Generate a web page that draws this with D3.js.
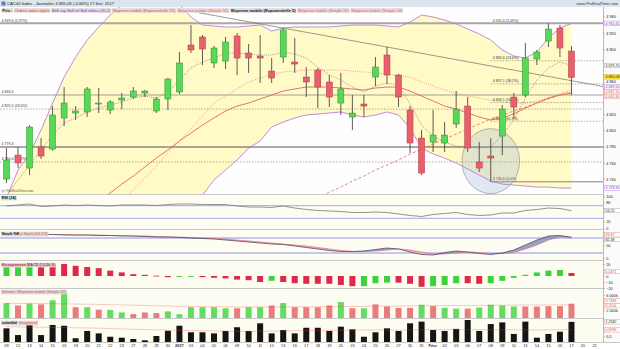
<!DOCTYPE html>
<html lang="fr">
<head>
<meta charset="UTF-8"/>
<title>CAC40 Index - Journalier</title>
<script src="https://cdnjs.cloudflare.com/ajax/libs/d3/7.8.5/d3.min.js"></script>
<style>
    body { margin: 0; background: #fff; }
    text { font-family: "Liberation Sans", Arial, sans-serif; }
    .axis path, .axis line { stroke: #888; stroke-width: 0.5px; }
    .axis path.domain { display: none; }
    .axis text { font-size: 3.9px; fill: #222; }
</style>
</head>
<body>
<div id="chart"></div>
<script>
// ---- data ----
const dates = ["09","12","13","14","15","16","19","20","21","22","23","27","28","29","30","2017","03","04","05","06",
    "09","10","11","12","13","16","17","18","19","20","23","24","25","26","27","30","31","Févr.","02","03",
    "06","07","08","09","10","13","14","15","16","17","20","21"];

const open = [4740.0,4769.5,4753.5,4779.4,4776.9,4815.1,4821.2,4822.5,4832.3,4824.9,4837.2,4840.9,4845.8,4823.7,4838.5,4847.1,4904.9,4914.8,4882.8,4885.2,
    4916.0,4895.1,4891.4,4872.9,4890.1,4884.0,4865.5,4874.1,4859.4,4833.5,4816.3,4832.3,4865.5,4892.6,4868.0,4824.9,4790.4,4785.5,4784.3,4807.7,
    4829.8,4760.9,4768.3,4792.9,4840.9,4843.4,4887.7,4909.8,4925.8,4897.5];
const high = [4778.1,4779.4,4806.4,4790.4,4829.8,4853.2,4829.8,4853.2,4852.0,4837.2,4845.8,4853.2,4849.5,4840.9,4864.3,4896.3,4929.5,4917.2,4903.7,4914.8,
    4919.7,4906.1,4917.2,4888.9,4925.8,4913.5,4877.8,4876.6,4868.0,4870.5,4843.4,4843.4,4890.1,4902.5,4869.2,4829.8,4800.3,4824.9,4810.1,4848.3,
    4841.0,4785.5,4790.4,4831.1,4845.8,4907.4,4898.8,4931.6,4929.5,4903.7];
const low = [4735.1,4753.5,4744.9,4764.6,4775.0,4805.2,4812.6,4816.3,4821.2,4820.0,4826.1,4838.5,4840.9,4821.2,4824.9,4844.6,4895.1,4880.3,4876.6,4875.4,
    4868.0,4870.5,4858.2,4858.2,4882.8,4870.5,4841.0,4827.4,4828.6,4818.8,4800.3,4816.3,4854.5,4856.9,4828.6,4772.0,4744.9,4773.2,4773.2,4802.8,
    4773.2,4748.6,4736.6,4769.5,4815.1,4840.9,4880.3,4902.5,4890.1,4843.4];
const close = [4763.4,4759.7,4804.0,4768.3,4818.8,4833.5,4823.7,4850.8,4833.5,4834.8,4839.7,4848.3,4848.3,4838.5,4863.1,4882.8,4898.8,4900.0,4901.2,4908.6,
    4888.9,4888.9,4888.9,4864.3,4923.4,4881.5,4859.4,4853.2,4840.9,4850.8,4821.2,4829.8,4877.8,4868.0,4840.9,4784.3,4747.4,4794.1,4794.1,4826.1,
    4778.1,4753.5,4765.8,4826.1,4828.6,4888.9,4896.3,4924.6,4901.2,4865.08];

const bollUp = [4716.6,4751.1,4770.8,4800.3,4833.5,4865.5,4890.1,4911.1,4927.1,4941.8,4954.1,4960.3,4966.5,4966.5,4960.3,4954.1,4939.4,4929.5,4928.3,4927.1,
    4927.1,4928.3,4929.5,4922.1,4925.8,4927.1,4927.1,4927.1,4927.1,4928.3,4929.5,4929.5,4929.5,4928.3,4927.1,4933.2,4941.8,4939.4,4935.7,4930.8,
    4924.6,4918.5,4911.1,4898.8,4891.4,4888.9,4896.3,4913.5,4925.8,4931.65];
const bollLow = [4642,4648,4651,4657,4660,4666,4671,4674,4679,4684,4688,4694,4697,4702,4706,4709,4714,4720.3,4738.8,4751.1,
    4763.4,4778.1,4786.8,4804.0,4810.1,4815.1,4818.8,4820.0,4821.2,4822.5,4818.8,4816.3,4818.8,4822.5,4818.8,4802.8,4778.1,4770.8,4765.8,4759.7,
    4752.3,4744.9,4737.5,4733.8,4732.6,4731.4,4730.1,4730.1,4728.9,4728.9];
const bollMid = [4559.1,4573.8,4588.6,4603.4,4619.4,4634.1,4650.1,4664.9,4680.9,4695.7,4711.7,4726.4,4741.2,4756.0,4772.0,4786.8,4801.5,4817.5,4833.5,4842.1,
    4850.8,4859.4,4864.3,4869.2,4871.7,4872.9,4874.1,4874.1,4874.1,4874.1,4872.9,4871.7,4870.5,4869.2,4866.8,4865.5,4859.4,4854.5,4849.5,4845.8,
    4842.1,4839.7,4837.2,4834.8,4833.5,4833.5,4836.0,4839.7,4844.6,4849.5];
const mmExp5 = [4720.3,4738.8,4757.2,4775.7,4794.1,4808.9,4815.1,4822.5,4827.4,4831.1,4834.8,4839.7,4842.1,4839.7,4847.1,4861.8,4876.6,4884.0,4888.9,4895.1,
    4895.1,4893.8,4892.6,4892.6,4896.3,4893.8,4888.9,4877.8,4868.0,4861.8,4853.2,4847.1,4854.5,4858.1,4855.7,4832.3,4806.4,4792.9,4785.5,4780.6,
    4779.4,4778.1,4779.4,4794.1,4812.6,4839.7,4861.8,4876.6,4884.0,4879.7];
const mmExp20 = [4632.9,4642.8,4652.6,4663.7,4673.5,4683.4,4694.4,4704.3,4714.1,4722.8,4733.8,4743.7,4754.8,4765.8,4775.7,4786.8,4796.6,4806.4,4815.1,4823.7,
    4829.8,4833.5,4838.5,4843.4,4848.3,4850.8,4853.2,4853.2,4853.2,4852.0,4850.8,4849.5,4852.0,4853.2,4853.2,4848.3,4842.1,4836.0,4829.8,4826.1,
    4821.2,4816.3,4812.6,4815.1,4820.0,4827.4,4833.5,4839.7,4843.4,4845.8];
const mmSimple50 = [null,null,null,null,null,null,null,null,null,null,null,null,null,null,null,null,null,null,null,null,
    null,null,null,null,null,4705.5,4711.7,4716.6,4724.0,4730.1,4737.5,4743.7,4751.1,4757.2,4763.4,4770.8,4776.9,4783.1,4789.2,4795.4,
    4801.5,4807.7,4813.8,4818.8,4823.7,4828.6,4833.5,4838.5,4843.4,4847.1];

// trend line and annotation circle (index, price)
const trendIdx = [15.4, 52.1];
const trendPrice = [4948, 4853];
const circleIdx = 42, circlePrice = 4762, circleIdxR = 2.5, circlePriceR = 40;

// horizontal levels drawn across the whole panel
const levelPrices = [4931.6, 4843.4, 4826.1, 4779.4, 4761.0];
const levelTexts = ["4 929,6 (1,97%)", "4 843,4", "4 825,5 (23,6%)", "4 779,4", "4 760,4 (38,2%)"];
// retracement drawn from the low of 8 févr.
const fibStart = 42;
const fibPrices = [4931.6, 4885.6, 4857.1, 4834.1, 4811.1, 4736.6];
const fibTexts = ["4 931,6 (2,05%)", "4 885,6 (23,6%)", "4 857,1 (38,2%)", "4 834,1 (50,0%)", "4 811,1 (61,8%)", "4 736,6 (0,0%)"];
const priceTicks = [4740, 4760, 4780, 4800, 4820, 4860, 4900, 4920, 4940];

const rsi = [68.8,71.9,75,67.2,68.8,71.9,70.3,71.9,70.3,68.8,71.9,71.9,71.9,70.3,73.4,75,75,73.4,73.4,73.4,
    68.8,65.6,65.6,64.1,68.8,62.5,57.8,54.7,53.1,51.6,48.4,48.4,50,48.4,43.8,39.1,35.9,42.2,45.3,48.4,
    42.2,39.1,40.6,46.9,46.9,54.7,57.8,62.5,60.9,54.25];
const stochK = [96,96,96,94,94,92,92,92,90,90,88,88,86,84,84,82,80,78,76,72,
    68,64,60,56,54,48,42,36,30,26,26,28,34,40,36,24,14,12,22,28,
    24,18,14,20,32,52,72,88,90,82.38];
const stochD = [98,96,96,96,94,94,92,92,92,90,90,88,88,86,84,84,82,80,78,76,
    72,68,64,60,56,52,48,42,36,30,26,26,28,32,36,32,24,16,16,20,
    24,22,18,18,22,36,52,72,84,83.87];
const macd = [18,18,18,18,21,20,17,15,13,9,6,3,2,0.5,-2,-1.5,-1,-2,-3,-4,
    -6,-7,-10,-8,-10,-12,-13,-13,-13,-15,-17,-17,-12,-11,-11,-13,-18,-17,-15,-12,
    -12,-13,-12,-8,-3,2,6,9,10,5.0471];
const macdColor = ("ggg" + "rrrrrrrrrrrr" + "gg" + "rrrrrr" + "g" + "rrrrrrr" + "ggg" + "rrr" + "ggg" + "rr" + "ggggggg" + "r").split("");
const volume = [3900,3270,3740,3545,4640,6460,2810,2810,2180,2100,1450,1000,1450,1280,1720,1000,2810,2810,2810,2540,
    2540,2810,2810,3270,3900,2810,2810,2810,3270,4170,2540,2540,3545,3000,2640,2640,3460,3090,2640,2450,
    2450,2730,3460,3270,3000,3000,3000,3090,3090,3733];
const volColor = ("grgrggrgrggrrrggggggrggrgr" + "rrrgrgrrrrgrggrggggrrrr" + "r").split("");
const volMa = [3820,3800,3785,3750,3720,3680,3645,3600,3550,3480,3410,3340,3260,3190,3120,3060,3010,2980,2950,2910,
    2880,2860,2860,2870,2880,2900,2920,2945,2960,2980,3000,3030,3060,3090,3120,3140,3170,3200,3230,3250,
    3270,3300,3320,3340,3360,3380,3390,3400,3405,3410];
const volat = [0.91,0.55,1.18,0.55,1.09,1.05,0.38,0.77,0.64,0.46,0.41,0.34,0.27,0.5,0.78,1.05,0.7,0.7,0.64,0.77,
    0.97,0.77,1.18,0.64,0.82,0.64,0.94,0.94,0.77,1.0,0.86,0.46,0.7,0.91,0.77,1.18,1.27,0.82,0.77,0.88,
    1.36,0.77,1.14,1.23,0.61,1.27,0.41,0.61,0.73,1.2582];
const volatMa = [1.0,0.99,0.98,0.97,0.96,0.95,0.94,0.93,0.92,0.9,0.88,0.86,0.85,0.83,0.82,0.8,0.79,0.78,0.77,0.76,
    0.75,0.75,0.76,0.76,0.77,0.78,0.79,0.8,0.8,0.81,0.81,0.82,0.82,0.82,0.82,0.83,0.83,0.84,0.84,0.84,
    0.84,0.84,0.83,0.83,0.83,0.83,0.83,0.83,0.83,0.8296];

// ---- layout ----
const width = 620, height = 349;
const plotRight = 603;
const fr = d3.formatLocale({decimal: ",", thousands: " ", grouping: [3], currency: ["", ""]});
const n = close.length;
const idx = d3.range(n);

const svg = d3.select("#chart").append("svg")
    .attr("width", width).attr("height", height)
    .style("display", "block");

svg.append("rect").attr("width", width).attr("height", height).attr("fill", "#ffffff");

const x = d3.scaleBand().domain(d3.range(dates.length)).range([0.7, 600.3]);
const cx = i => x(i) + x.bandwidth() / 2;
const xi = v => x(0) + x.bandwidth() / 2 + v * x.step();   // fractional index
const bodyW = 6;

const panels = {
    price: [7, 194], rsi: [195, 229], stoch: [231, 260], macd: [262, 288], vol: [289, 318], volat: [320, 342]
};

const defs = svg.append("defs");
Object.keys(panels).forEach(k => {
    defs.append("clipPath").attr("id", "clip-" + k)
        .append("rect").attr("x", 0).attr("y", panels[k][0]).attr("width", plotRight).attr("height", panels[k][1] - panels[k][0]);
});

// panel backgrounds
Object.keys(panels).forEach(k => {
    svg.append("rect").attr("x", 0).attr("y", panels[k][0]).attr("width", plotRight).attr("height", panels[k][1] - panels[k][0])
        .attr("fill", k === "price" ? "#fefefe" : "#fdfdf1");
    svg.append("line").attr("x1", 0).attr("x2", width).attr("y1", panels[k][1] + 0.5).attr("y2", panels[k][1] + 0.5)
        .attr("stroke", "#c8c8c8").attr("stroke-width", 1);
});

// ---- price panel ----
const yPrice = d3.scaleLinear().domain([4722.8, 4951.7]).range([193, 7]);
const gp = svg.append("g").attr("clip-path", "url(#clip-price)");

gp.append("path").datum(idx)
    .attr("fill", "#fffac6")
    .attr("d", d3.area().x(cx).y0(i => yPrice(bollLow[i])).y1(i => yPrice(bollUp[i])));

// levels
const levelStyle = [
    {stroke: "#a8a8a8", w: 2, dash: null},
    {stroke: "#8c8c8c", w: 0.8, dash: null},
    {stroke: "#777", w: 0.6, dash: "1.5,1.5"},
    {stroke: "#555", w: 1.2, dash: null},
    {stroke: "#777", w: 0.6, dash: "1.5,1.5"}
];
levelPrices.forEach((p, k) => {
    gp.append("line").attr("x1", 0).attr("x2", plotRight).attr("y1", yPrice(p)).attr("y2", yPrice(p))
        .attr("stroke", levelStyle[k].stroke).attr("stroke-width", levelStyle[k].w)
        .attr("stroke-dasharray", levelStyle[k].dash);
    gp.append("text").attr("x", 1.5).attr("y", yPrice(p) - 1.8).text(levelTexts[k])
        .style("font-size", "3.6px").style("fill", "#333");
});
fibPrices.forEach((p, k) => {
    if (k > 0) {
        gp.append("line").attr("x1", cx(fibStart)).attr("x2", plotRight).attr("y1", yPrice(p)).attr("y2", yPrice(p))
            .attr("stroke", k === fibPrices.length - 1 ? "#808080" : "#777")
            .attr("stroke-width", k === fibPrices.length - 1 ? 1 : 0.6)
            .attr("stroke-dasharray", k === fibPrices.length - 1 ? null : "1.5,1.5");
    }
    gp.append("text").attr("x", cx(fibStart) + 2).attr("y", yPrice(p) - 1.6).text(fibTexts[k])
        .style("font-size", "3.6px").style("fill", "#333");
});

// circle annotation
gp.append("ellipse")
    .attr("cx", xi(circleIdx)).attr("cy", yPrice(circlePrice))
    .attr("rx", circleIdxR * x.step()).attr("ry", yPrice(circlePrice - circlePriceR) - yPrice(circlePrice))
    .attr("fill", "rgba(150,175,215,0.28)").attr("stroke", "#8a8a8a").attr("stroke-width", 0.6);

// bands and moving averages
const lineOf = arr => d3.line().defined(i => arr[i] != null).x(cx).y(i => yPrice(arr[i]));
gp.append("path").datum(idx).attr("fill", "none").attr("stroke", "#b070d8").attr("stroke-width", 0.8).attr("d", lineOf(bollUp));
gp.append("path").datum(idx).attr("fill", "none").attr("stroke", "#b070d8").attr("stroke-width", 0.8).attr("d", lineOf(bollLow));
gp.append("path").datum(idx).attr("fill", "none").attr("stroke", "#f08888").attr("stroke-width", 0.8)
    .attr("stroke-dasharray", "1,1.2").attr("d", lineOf(bollMid));
gp.append("path").datum(idx).attr("fill", "none").attr("stroke", "#e05050").attr("stroke-width", 0.8).attr("d", lineOf(mmExp20));
gp.append("path").datum(idx).attr("fill", "none").attr("stroke", "#e06a6a").attr("stroke-width", 0.8)
    .attr("stroke-dasharray", "3,2").attr("d", lineOf(mmSimple50));
gp.append("path").datum(idx).attr("fill", "none").attr("stroke", "#666").attr("stroke-width", 0.6)
    .attr("stroke-dasharray", "1,1").attr("d", lineOf(mmExp5));

// trend line
gp.append("line")
    .attr("x1", xi(trendIdx[0])).attr("y1", yPrice(trendPrice[0]))
    .attr("x2", xi(trendIdx[1])).attr("y2", yPrice(trendPrice[1]))
    .attr("stroke", "#707070").attr("stroke-width", 0.7);

// candles
const candle = gp.selectAll("g.candle").data(idx).enter().append("g").attr("class", "candle");
candle.append("line")
    .attr("x1", cx).attr("x2", cx)
    .attr("y1", i => yPrice(high[i])).attr("y2", i => yPrice(low[i]))
    .attr("stroke", "#333").attr("stroke-width", 0.8);
candle.append("rect")
    .attr("x", i => cx(i) - bodyW / 2)
    .attr("y", i => yPrice(Math.max(open[i], close[i])))
    .attr("width", bodyW)
    .attr("height", i => Math.max(1, Math.abs(yPrice(open[i]) - yPrice(close[i]))))
    .attr("fill", i => close[i] >= open[i] ? "#58d858" : "#e8606c")
    .attr("stroke", i => close[i] >= open[i] ? "#2e8b2e" : "#b03444")
    .attr("stroke-width", 0.5);

gp.append("text").attr("x", 1.5).attr("y", 191.5).text("(c) ProRealTime.com")
    .style("font-size", "3.4px").style("fill", "#555");

// ---- title and legend ----
svg.append("rect").attr("x", 0).attr("y", 0).attr("width", width).attr("height", 7).attr("fill", "#dae5ef");
svg.append("rect").attr("x", 1.5).attr("y", 1.5).attr("width", 4).attr("height", 4).attr("fill", "#5a7fb0");
svg.append("text").attr("x", 7).attr("y", 5.2).text("CAC40 Index - Journalier     4 865,08 (-0,84%)     17 févr. 2017")
    .style("font-size", "4.2px").style("fill", "#222");
svg.append("text").attr("x", 618).attr("y", 5.2).attr("text-anchor", "end").text("www.ProRealTime.com")
    .style("font-size", "4px").style("fill", "#333");

const legendParts = [
    ["Prix :", "#111", "bold"], ["Ordres selon règles", "#e03030", "normal"], ["Boll sup Boll inf Boll milieu (20,2)", "#8030c0", "normal"],
    ["Moyenne mobile (Exponentielle 20)", "#e04848", "normal"], ["Moyenne mobile (Simple 50)", "#e06060", "normal"],
    ["Moyenne mobile (Exponentielle 5)", "#111", "bold"], ["Moyenne mobile (Simple 20)", "#e06060", "normal"],
    ["Moyenne mobile (Simple 20)", "#e06060", "normal"]
];
let lx = 1.5;
const lg = svg.append("g");
legendParts.forEach(p => {
    const t = lg.append("text").attr("x", lx + 0.8).attr("y", 11.6).text(p[0])
        .style("font-size", "4px").style("fill", p[1]).style("font-weight", p[2]);
    const w = t.node().getComputedTextLength();
    lg.insert("rect", "text").attr("x", lx).attr("y", 8).attr("width", w + 1.6).attr("height", 4.8).attr("fill", "#e4dede");
    lx += w + 2.4;
});

// ---- lower panels ----
const header = (y, parts) => {
    let hx = 1;
    const g = svg.append("g");
    parts.forEach(p => {
        const t = g.append("text").attr("x", hx + 0.8).attr("y", y + 4.3).text(p[0])
            .style("font-size", "3.8px").style("fill", p[1]).style("font-weight", p[2] || "normal");
        const w = t.node().getComputedTextLength();
        g.insert("rect", "text").attr("x", hx).attr("y", y + 0.8).attr("width", w + 1.6).attr("height", 4.6).attr("fill", "#d9d9d9");
        hx += w + 2;
    });
};

// RSI
const yRsi = d3.scaleLinear().domain([0, 100]).range([228, 196]);
const gr = svg.append("g").attr("clip-path", "url(#clip-rsi)");
[70, 30].forEach(v => gr.append("line").attr("x1", 0).attr("x2", plotRight).attr("y1", yRsi(v)).attr("y2", yRsi(v))
    .attr("stroke", "#b6b6ee").attr("stroke-width", 1.4));
gr.append("path").datum(idx).attr("fill", "none").attr("stroke", "#777").attr("stroke-width", 0.8)
    .attr("d", d3.line().x(cx).y(i => yRsi(rsi[i])));
header(panels.rsi[0], [["RSI (14)", "#111", "bold"]]);

// Stochastic
const yStoch = d3.scaleLinear().domain([0, 100]).range([258, 233]);
const gs = svg.append("g").attr("clip-path", "url(#clip-stoch)");
[80, 20].forEach(v => gs.append("line").attr("x1", 0).attr("x2", plotRight).attr("y1", yStoch(v)).attr("y2", yStoch(v))
    .attr("stroke", "#b6b6ee").attr("stroke-width", 1.4));
gs.append("path").datum(idx).attr("fill", "#8890c0").attr("fill-opacity", 0.85)
    .attr("d", d3.area().x(cx).y0(i => yStoch(stochD[i])).y1(i => yStoch(Math.max(stochK[i], stochD[i]))));
gs.append("path").datum(idx).attr("fill", "#f4b4b4")
    .attr("d", d3.area().x(cx).y0(i => yStoch(stochD[i])).y1(i => yStoch(Math.min(stochK[i], stochD[i]))));
gs.append("path").datum(idx).attr("fill", "none").attr("stroke", "#e07080").attr("stroke-width", 0.7)
    .attr("d", d3.line().x(cx).y(i => yStoch(stochD[i])));
gs.append("path").datum(idx).attr("fill", "none").attr("stroke", "#3c3c5c").attr("stroke-width", 0.7)
    .attr("d", d3.line().x(cx).y(i => yStoch(stochK[i])));
header(panels.stoch[0], [["Stoch %K :", "#111", "bold"], ["Stoch (10,3,3)", "#e05060"]]);

// MACD histogram
const yMacd = d3.scaleLinear().domain([-20, 20]).range([288, 264]);
const gm = svg.append("g").attr("clip-path", "url(#clip-macd)");
gm.selectAll("rect").data(idx).enter().append("rect")
    .attr("x", i => cx(i) - bodyW / 2).attr("width", bodyW)
    .attr("y", i => Math.min(yMacd(0), yMacd(macd[i])))
    .attr("height", i => Math.max(0.8, Math.abs(yMacd(macd[i]) - yMacd(0))))
    .attr("fill", i => macdColor[i] === "g" ? "#3cd23c" : "#e0284c");
header(panels.macd[0], [["Histogramme MACD (12,26,9)", "#d02040", "bold"]]);

// Volume
const yVol = d3.scaleLinear().domain([0, 6000]).range([318, 295]);
const gv = svg.append("g").attr("clip-path", "url(#clip-vol)");
gv.selectAll("rect").data(idx).enter().append("rect")
    .attr("x", i => cx(i) - bodyW / 2).attr("width", bodyW)
    .attr("y", i => yVol(volume[i])).attr("height", i => yVol(0) - yVol(volume[i]))
    .attr("fill", i => volColor[i] === "g" ? "#62dc62" : "#ec7c7c");
gv.append("path").datum(idx).attr("fill", "none").attr("stroke", "#e05050").attr("stroke-width", 0.6)
    .attr("stroke-dasharray", "1,1").attr("d", d3.line().x(cx).y(i => yVol(volMa[i])));
header(panels.vol[0], [["Volume / Moyenne mobile (Simple 20)", "#e05050"]]);

// Volatility
const yVolat = d3.scaleLinear().domain([0.5, 1.25]).range([336, 322]);
const gt = svg.append("g").attr("clip-path", "url(#clip-volat)");
gt.selectAll("rect").data(idx).enter().append("rect")
    .attr("x", i => cx(i) - bodyW / 2).attr("width", bodyW)
    .attr("y", i => yVolat(volat[i])).attr("height", i => panels.volat[1] - yVolat(volat[i]))
    .attr("fill", "#151515");
gt.append("path").datum(idx).attr("fill", "none").attr("stroke", "#e05050").attr("stroke-width", 0.6)
    .attr("stroke-dasharray", "1,1").attr("d", d3.line().x(cx).y(i => yVolat(volatMa[i])));
header(panels.volat[0], [["volatilité", "#111", "bold"], ["(moyenne)", "#e05050"]]);

// ---- axes ----
svg.append("rect").attr("x", plotRight).attr("y", 7).attr("width", width - plotRight).attr("height", 335).attr("fill", "#fbfbfb");
svg.append("line").attr("x1", plotRight + 0.5).attr("x2", plotRight + 0.5).attr("y1", 7).attr("y2", 342)
    .attr("stroke", "#bbb").attr("stroke-width", 1);

const rightAxis = (scale, ticks, fmt) => svg.append("g").attr("class", "axis")
    .attr("transform", "translate(" + (plotRight + 0.5) + ",0)")
    .call(d3.axisRight(scale).tickValues(ticks).tickSize(1.5).tickPadding(1.2).tickFormat(fmt));

const priceAxisTicks = priceTicks, rsiTicks = [100, 80, 20, 0], stochTicks = [50, 0],
    macdTicks = [20, 0, -10, -20], volTicks = [6000, 2000], volatTicks = [0.5];
rightAxis(yPrice, priceAxisTicks, fr.format(",d"));
rightAxis(yRsi, rsiTicks, fr.format("d"));
rightAxis(yStoch, stochTicks, fr.format("d"));
rightAxis(yMacd, macdTicks, fr.format("d"));
rightAxis(yVol, volTicks, d => fr.format(",d")(d) + "k");
rightAxis(yVolat, volatTicks, fr.format(".1f"));

// value boxes on the right axis, pushed away from each other and from tick labels
const boxes = (items, avoid) => {
    for (let it = 0; it < 40; it++) {
        items.sort((a, b) => a.y - b.y);
        for (let k = 1; k < items.length; k++) {
            const d = items[k].y - items[k - 1].y;
            if (d < 4.8) { items[k].y += (4.8 - d) / 2; items[k - 1].y -= (4.8 - d) / 2; }
        }
        items.forEach(b => avoid.forEach(a => {
            const d = b.y - a;
            if (Math.abs(d) < 4.6) b.y = d < 0 ? a - 4.6 : a + 4.6;
        }));
    }
    items.forEach(b => {
        svg.append("rect").attr("x", plotRight + 1.5).attr("y", b.y - 2.2).attr("width", 16).attr("height", 4.4)
            .attr("fill", b.bg).attr("stroke", b.border).attr("stroke-width", 0.4);
        svg.append("text").attr("x", plotRight + 2.5).attr("y", b.y + 1.3).text(b.text)
            .style("font-size", "3.6px").style("fill", b.color);
    });
};
const f2 = fr.format(",.2f");
boxes([
    {y: yPrice(bollUp[n - 1]), text: f2(bollUp[n - 1]), color: "#8030c0", bg: "#fff", border: "#b070d8"},
    {y: yPrice(mmExp5[n - 1]), text: f2(mmExp5[n - 1]), color: "#222", bg: "#fff", border: "#999"},
    {y: yPrice(close[n - 1]), text: f2(close[n - 1]), color: "#111", bg: "#ffe640", border: "#c8a800"},
    {y: yPrice(bollMid[n - 1]), text: f2(bollMid[n - 1]), color: "#8030c0", bg: "#fff", border: "#b070d8"},
    {y: yPrice(mmSimple50[n - 1]), text: f2(mmSimple50[n - 1]), color: "#e04848", bg: "#fff", border: "#e08080"},
    {y: yPrice(mmExp20[n - 1]), text: f2(mmExp20[n - 1]), color: "#e04848", bg: "#fff", border: "#e08080"},
    {y: yPrice(bollLow[n - 1]), text: f2(bollLow[n - 1]), color: "#8030c0", bg: "#fff", border: "#b070d8"}
], priceAxisTicks.map(yPrice));
boxes([{y: yRsi(rsi[n - 1]), text: f2(rsi[n - 1]), color: "#222", bg: "#fff", border: "#999"}], rsiTicks.map(yRsi));
boxes([
    {y: yStoch(stochD[n - 1]), text: f2(stochD[n - 1]), color: "#e04848", bg: "#fff", border: "#e08080"},
    {y: yStoch(stochK[n - 1]), text: f2(stochK[n - 1]), color: "#222", bg: "#fff", border: "#999"}
], stochTicks.map(yStoch));
boxes([{y: yMacd(macd[n - 1]), text: fr.format(",.4f")(macd[n - 1]), color: "#e04848", bg: "#fff", border: "#e08080"}],
    macdTicks.map(yMacd));
boxes([
    {y: yVol(volume[n - 1]), text: fr.format(",d")(volume[n - 1]) + "k", color: "#e04848", bg: "#fff", border: "#e08080"},
    {y: yVol(volMa[n - 1]), text: fr.format(",d")(volMa[n - 1]) + "k", color: "#e04848", bg: "#fff", border: "#e08080"}
], volTicks.map(yVol));
boxes([
    {y: yVolat(volat[n - 1]), text: fr.format(",.4f")(volat[n - 1]), color: "#222", bg: "#fff", border: "#999"},
    {y: yVolat(volatMa[n - 1]), text: fr.format(",.4f")(volatMa[n - 1]), color: "#e04848", bg: "#fff", border: "#e08080"}
], volatTicks.map(yVolat));

// bottom date axis
svg.append("g").attr("class", "axis")
    .attr("transform", "translate(0,342)")
    .call(d3.axisBottom(x).tickSize(0).tickPadding(2.2).tickFormat(i => dates[i]))
    .selectAll("text")
    .style("font-weight", i => (dates[i] === "2017" || dates[i] === "Févr.") ? "bold" : "normal");
</script>
</body>
</html>
